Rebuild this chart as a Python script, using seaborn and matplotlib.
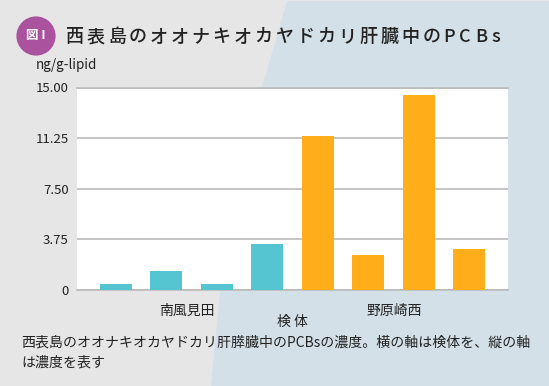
import matplotlib
matplotlib.use('Agg')
import matplotlib.pyplot as plt
from matplotlib.patches import Polygon, Circle
import seaborn as sns
import pandas as pd

# values
samples = ['a1', 'a2', 'a3', 'a4', 'b1', 'b2', 'b3', 'b4']
groups = ['南風見田'] * 4 + ['野原崎西'] * 4
values = [0.44, 1.41, 0.44, 3.4, 11.4, 2.6, 14.45, 3.05]
yticks = [0, 3.75, 7.5, 11.25, 15]
ytick_labels = ['0', '3.75', '7.50', '11.25', '15.00']
group_names = ['南風見田', '野原崎西']
title_text = '西表島のオオナキオカヤドカリ肝臓中のPCBs'
caption = '西表島のオオナキオカヤドカリ肝膵臓中のPCBsの濃度。横の軸は検体を、縦の軸\nは濃度を表す'

df = pd.DataFrame({'sample': samples, 'group': groups, 'value': values})

sns.set_style('white')
plt.rcParams['font.family'] = ['Noto Sans CJK JP', 'DejaVu Sans']

W, H = 549, 386
fig = plt.figure(figsize=(W / 100, H / 100), dpi=100, facecolor='#e6e6e6')

# background layer, pixel coordinates
back = fig.add_axes([0, 0, 1, 1], facecolor='none', zorder=0)
back.set_xlim(0, W)
back.set_ylim(H, 0)
back.axis('off')
pts = [(287, 1), (549, 1), (549, 386), (211, 386), (220, 292), (261, 90), (270, 60)]
back.add_patch(Polygon(pts, closed=True, facecolor='#d3e0e8', edgecolor='none'))

ax = fig.add_axes([77 / W, 1 - 290 / H, (507.5 - 77) / W, (290 - 87.5) / H], facecolor='white', zorder=1)
sns.barplot(data=df, x='sample', y='value', hue='group', dodge=False, legend=False,
            palette=['#56c5d2', '#ffae19'], saturation=1, width=0.63, linewidth=0, ax=ax, zorder=3)
ax.set_xlim(-0.77, 7.76)
ax.set_ylim(0, 15)
ax.set_yticks(yticks)
ax.set_yticklabels(ytick_labels, fontsize=9.5, color='#222222')
ax.set_xticks([1.4, 5.52])
ax.set_xticklabels(group_names, fontsize=10, color='#222222')
ax.tick_params(axis='y', length=0, pad=6)
ax.tick_params(axis='x', length=0, pad=10)
ax.yaxis.grid(True, color='#bbbbbb', linewidth=1.2, zorder=1)
ax.set_axisbelow(True)
ax.set_ylabel('')
ax.set_xlabel('検 体', fontsize=10, color='#222222', labelpad=-2.5)
for s in ['left', 'right']:
    ax.spines[s].set_visible(False)
for s in ['top', 'bottom']:
    ax.spines[s].set_color('#bbbbbb')
    ax.spines[s].set_linewidth(1.2)

# top layer for badge, title and caption
top = fig.add_axes([0, 0, 1, 1], facecolor='none', zorder=2)
top.set_xlim(0, W)
top.set_ylim(H, 0)
top.axis('off')
top.text(36, 65, 'ng/g-lipid', fontsize=9.7, color='#222222', va='center')
top.add_patch(Circle((36, 36), 19.6, facecolor='#ab529f', edgecolor='none'))
top.text(36, 36, '図 I', fontsize=9, color='white', ha='center', va='center', fontweight='bold')

# title has wide letter spacing, so place it char by char
x = 66
for ch in title_text:
    top.text(x, 37, ch, fontsize=13, color='#222222', fontweight='medium', ha='left', va='center')
    x += 20.95 if ord(ch) > 255 else 16

for line, y in zip(caption.split('\n'), [343, 363]):
    top.text(21, y, line, fontsize=10.05, color='#222222', va='center')

fig.savefig('out.png', dpi=100, facecolor=fig.get_facecolor())
